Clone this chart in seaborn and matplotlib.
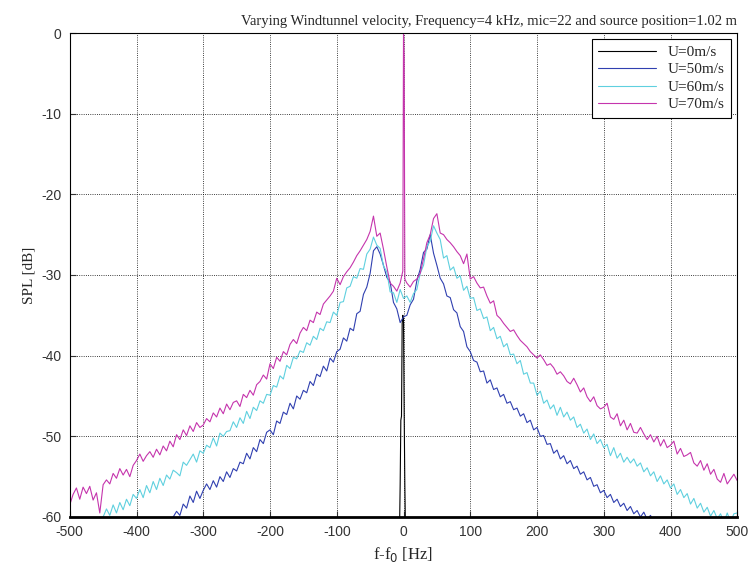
import numpy as np
import pandas as pd
import seaborn as sns
import matplotlib.pyplot as plt

# frequency grid for the three wind-on spectra, 5 Hz steps
freq = np.arange(-500, 505, 5)

# U=70 m/s
spl_70 = [
    -58.5, -57.2, -56.4, -57.8, -56.3, -57.1, -56.2, -57.9, -57.0, -59.5,
    -56.0, -55.4, -55.9, -54.6, -55.2, -54.0, -54.8, -54.1, -55.0, -53.6,
    -53.0, -52.2, -53.1, -52.4, -51.9, -52.6, -51.6, -52.3, -51.2, -51.8,
    -50.6, -51.3, -49.8, -50.4, -49.2, -49.9, -48.7, -49.4, -48.3, -48.9,
    -48.6, -47.8, -48.2, -47.1, -47.6, -46.5, -47.2, -46.0, -46.7, -45.8,
    -45.6, -46.3, -44.8, -45.2, -44.3, -44.9, -43.6, -43.2, -42.4, -42.9,
    -41.0, -41.6, -40.2, -40.7, -39.5, -39.9, -38.6, -38.0, -38.5, -37.2,
    -36.5, -36.9, -35.6, -35.9, -34.6, -34.9, -33.6, -33.1, -32.6, -32.0,
    -30.4, -31.2, -30.2, -29.6, -29.1, -28.4, -27.6, -27.0, -26.3, -25.6,
    -24.6, -22.7, -25.2, -24.8, -26.8, -29.0, -31.0, -31.4, -32.0, -31.0,
    0.0, -31.0, -31.5, -30.8, -30.5, -29.8, -28.0, -26.0, -25.0, -23.0,
    -22.4, -24.8, -25.0, -25.6, -26.0, -26.5, -27.1, -27.6, -28.6, -27.4,
    -30.5, -30.2, -31.0, -31.6, -31.5, -32.6, -33.5, -33.2, -35.0, -35.4,
    -36.0, -36.5, -37.0, -36.8, -37.5, -38.1, -38.5, -38.9, -39.5, -39.9,
    -40.3, -39.9, -40.5, -41.2, -41.0, -41.5, -42.3, -42.0, -42.5, -43.2,
    -43.5, -42.8, -43.6, -44.5, -44.0, -45.1, -45.7, -45.1, -46.2, -46.6,
    -46.4, -45.9, -47.6, -47.9, -47.2, -48.7, -48.0, -49.2, -48.4, -49.5,
    -49.6, -48.9, -49.7, -50.4, -49.8, -50.7, -50.0, -51.2, -50.4, -51.4,
    -51.1, -50.6, -52.2, -51.5, -52.5, -52.3, -52.0, -53.3, -53.7, -53.0,
    -54.2, -53.4, -54.7, -54.1, -55.3, -55.7, -54.6, -55.9, -55.3, -54.7,
    -55.5,
]
# the tonal peak around f0 for U=70
spike_f = [-1, 1, 2]
spike_70 = [-29.5, -3.0, -30.5]

# U=60 m/s
spl_60 = [
    -63.0, -62.6, -62.8, -62.2, -61.9, -62.0, -61.4, -61.0, -60.6, -60.3,
    -60.0, -59.0, -59.8, -58.5, -59.5, -58.2, -59.1, -57.8, -58.6, -57.2,
    -57.7, -56.6, -57.6, -56.1, -57.0, -55.6, -56.6, -55.2, -56.1, -54.8,
    -55.3, -54.2, -54.5, -54.9, -53.2, -53.6, -52.9, -52.2, -53.2, -51.8,
    -52.1, -51.1, -51.4, -50.2, -51.2, -49.6, -50.0, -49.4, -49.3, -48.2,
    -48.9, -47.7, -48.4, -46.9, -47.8, -46.4, -46.8, -45.6, -45.9, -44.8,
    -44.9, -43.7, -43.9, -42.5, -42.9, -41.2, -41.6, -40.2, -40.4, -39.4,
    -39.6, -38.4, -38.7, -37.6, -38.0, -36.6, -36.9, -35.8, -35.9, -34.6,
    -35.0, -33.4, -33.3, -31.6, -31.4, -30.2, -30.4, -29.2, -29.3, -27.4,
    -26.8, -25.3, -26.3, -26.7, -28.9, -29.6, -32.1, -32.2, -33.4, -31.8,
    -32.9, -32.6, -33.4, -32.3, -31.8, -29.8, -28.8, -26.5, -25.8, -23.9,
    -24.8, -25.6, -27.9, -27.6, -29.4, -29.0, -30.4, -30.1, -31.9, -31.4,
    -32.9, -32.8, -34.4, -34.2, -35.4, -35.2, -36.9, -36.5, -37.9, -37.6,
    -38.9, -38.5, -39.9, -39.8, -41.0, -40.6, -42.3, -42.1, -43.4, -43.4,
    -44.9, -44.4, -45.9, -45.5, -46.6, -46.1, -47.4, -46.4, -47.6, -47.0,
    -48.0, -47.6, -48.9, -48.5, -49.6, -49.1, -50.4, -49.7, -50.9, -50.4,
    -51.4, -51.0, -52.4, -51.4, -52.7, -52.1, -53.2, -52.6, -53.3, -52.8,
    -53.7, -53.3, -54.4, -53.9, -54.9, -54.4, -55.6, -54.9, -55.9, -55.4,
    -56.4, -55.9, -57.2, -56.6, -57.6, -57.1, -58.4, -57.7, -58.9, -58.3,
    -59.4, -58.8, -59.9, -59.2, -60.2, -59.6, -60.7, -59.5, -60.6, -59.6,
    -59.5,
]

# U=50 m/s
spl_50 = [
    -66.0, -65.8, -65.6, -65.5, -65.2, -65.0, -64.9, -64.7, -64.6, -64.5,
    -64.5, -64.3, -64.1, -64.0, -63.8, -63.6, -63.4, -63.1, -62.9, -62.7,
    -62.5, -62.3, -62.0, -61.8, -61.6, -61.4, -61.2, -61.0, -60.7, -60.5,
    -60.2, -60.0, -59.3, -59.8, -58.4, -58.9, -57.4, -58.2, -56.8, -57.7,
    -56.7, -55.9, -56.6, -55.5, -56.3, -55.0, -55.6, -54.4, -55.1, -54.0,
    -54.3, -53.2, -53.4, -52.1, -52.8, -51.4, -51.9, -50.4, -50.9, -49.5,
    -49.2, -49.8, -48.1, -48.4, -47.0, -47.3, -45.9, -46.6, -45.0, -45.4,
    -44.3, -44.6, -43.2, -43.7, -42.3, -42.6, -41.3, -41.9, -40.3, -40.8,
    -39.5, -39.2, -37.8, -38.2, -36.6, -36.9, -34.8, -34.5, -32.4, -31.5,
    -29.8, -27.0, -26.5, -27.4, -28.8, -30.3, -30.9, -33.4, -34.2, -35.9,
    -35.2, -35.0, -33.7, -33.0, -30.7, -29.3, -27.2, -26.8, -25.0, -27.3,
    -28.8, -30.4, -31.1, -32.6, -32.8, -34.3, -34.7, -36.4, -37.0, -38.9,
    -39.5, -40.6, -40.8, -42.0, -41.9, -43.4, -43.0, -44.2, -44.0, -45.1,
    -44.8, -45.9, -45.7, -46.7, -46.5, -47.5, -47.2, -48.3, -48.0, -49.2,
    -48.9, -50.0, -49.9, -51.0, -50.9, -52.1, -51.7, -52.8, -52.4, -53.4,
    -53.0, -54.0, -53.7, -54.7, -54.4, -55.4, -55.1, -56.2, -56.0, -57.0,
    -56.7, -57.6, -57.2, -58.2, -57.8, -58.7, -58.3, -59.2, -58.7, -59.6,
    -59.2, -60.0, -59.4, -60.3, -59.8, -60.6, -60.2, -61.0, -61.0, -61.2,
    -61.5, -61.7, -61.9, -62.0, -62.2, -62.4, -62.5, -62.6, -62.8, -62.9,
    -63.0, -63.2, -63.3, -63.5, -63.6, -63.8, -63.9, -64.1, -64.3, -64.4,
    -64.5,
]

# U=0 m/s: only the tone around f0 rises above the floor
freq_0 = [-500, -8, -6, -5, -4, -3, -2, -1, 0, 1, 2, 3, 4, 6, 500]
spl_0 = [-65, -63, -62, -56, -48, -47.5, -36, -35, -35.5, -47, -56, -62, -63, -64, -65]

labels = ["U=0m/s", "U=50m/s", "U=60m/s", "U=70m/s"]
colors = ["#000000", "#3040b0", "#5fd0df", "#c535ad"]

df = pd.concat([
    pd.DataFrame({"f": freq_0, "spl": spl_0, "U": labels[0]}),
    pd.DataFrame({"f": freq, "spl": spl_50, "U": labels[1]}),
    pd.DataFrame({"f": freq, "spl": spl_60, "U": labels[2]}),
    pd.DataFrame({"f": np.concatenate([freq, spike_f]),
                  "spl": spl_70 + spike_70, "U": labels[3]}),
], ignore_index=True)

sns.set_style("ticks")
plt.rcParams["font.family"] = ["Liberation Serif", "DejaVu Serif"]
plt.rcParams["axes.unicode_minus"] = False

fig = plt.figure(figsize=(7.5, 5.71), dpi=100)
ax = fig.add_axes([0.093, 0.0946, 0.89, 0.8476])

sns.lineplot(data=df, x="f", y="spl", hue="U", hue_order=labels,
             palette=dict(zip(labels, colors)), estimator=None, sort=True,
             lw=0.8, ax=ax)

ax.set_xlim(-500, 500)
ax.set_ylim(-60, 0)
ax.set_xticks(np.arange(-500, 501, 100))
ax.set_yticks(np.arange(-60, 1, 10))
ax.grid(True, linestyle=":", color="black", lw=0.6)
ax.tick_params(direction="in", length=4, labelsize=10, colors="#333333")
ax.tick_params(axis="x", pad=6)
ax.tick_params(axis="y", pad=6)
for lab in ax.get_xticklabels() + ax.get_yticklabels():
    lab.set_family("Liberation Sans")
for s in ax.spines.values():
    s.set_visible(True)
    s.set_color("black")
    s.set_linewidth(0.8)
ax.spines["bottom"].set_linewidth(2)

ax.set_xlabel("f-f$_0$ [Hz]", fontsize=12)
ax.set_ylabel("SPL [dB]", fontsize=11)
ax.set_title("Varying Windtunnel velocity, Frequency=4 kHz, mic=22 and source position=1.02 m",
             fontsize=10.5, loc="right", pad=6)

leg = ax.legend(loc="upper right", fontsize=11, frameon=True, fancybox=False,
                framealpha=1, edgecolor="black", borderaxespad=0.4,
                handlelength=3.8, labelspacing=0.25)
leg.get_frame().set_linewidth(0.8)

plt.savefig("out.png", dpi=100)
